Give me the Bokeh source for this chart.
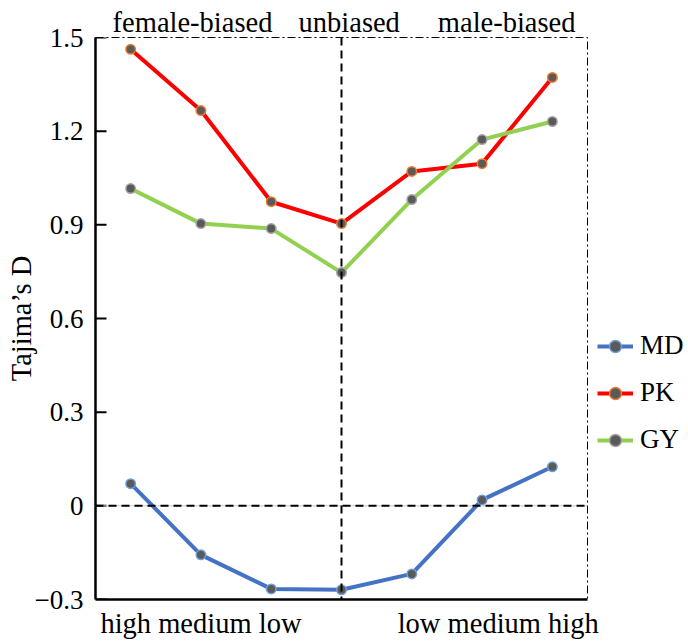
from bokeh.plotting import figure
from bokeh.models import (ColumnDataSource, Range1d, FixedTicker, Span,
                          Legend, LegendItem, LinearAxis)
from bokeh.embed import file_html
from bokeh.resources import INLINE

# ---------------- data ----------------
positions = [1, 2, 3, 4, 5, 6, 7]
md = [0.071, -0.157, -0.266, -0.269, -0.218, 0.019, 0.125]
pk = [1.462, 1.266, 0.974, 0.904, 1.071, 1.096, 1.372]
gy = [1.016, 0.904, 0.888, 0.747, 0.981, 1.173, 1.231]
series_names = ["MD", "PK", "GY"]

y_ticks = [-0.3, 0, 0.3, 0.6, 0.9, 1.2, 1.5]
y_tick_labels = ["\u22120.3", "0", "0.3", "0.6", "0.9", "1.2", "1.5"]

top_groups = ["female-biased", "unbiased", "male-biased"]
top_group_x = [1.88, 4.11, 6.35]
bottom_groups = ["high medium low", "low medium high"]
bottom_group_x = [2, 6.23]

FONT = "Liberation Serif"
FS = "27px"
FS_GROUP = "28.5px"

p = figure(frame_width=492, frame_height=562, output_backend="svg",
           toolbar_location=None,
           x_range=Range1d(0.5, 7.5), y_range=Range1d(-0.3, 1.5),
           min_border_left=95, min_border_top=37, min_border_bottom=44,
           min_border_right=101)

p.background_fill_color = "white"
p.border_fill_color = "white"
p.xgrid.visible = False
p.ygrid.visible = False
p.outline_line_color = "black"
p.outline_line_width = 1
p.outline_line_dash = "8 3 2 3"

# y axis
p.yaxis.ticker = FixedTicker(ticks=y_ticks)
p.yaxis.major_label_overrides = {t: l for t, l in zip(y_ticks, y_tick_labels)}
p.yaxis.minor_tick_line_color = None
p.yaxis.major_tick_in = 0
p.yaxis.major_tick_out = 0
p.yaxis.axis_line_width = 2.5
p.yaxis.major_label_text_font = FONT
p.yaxis.major_label_text_font_size = FS
p.yaxis.major_label_text_color = "black"
p.yaxis.major_label_standoff = 12
p.yaxis.axis_label = "Tajima\u2019s D"
p.yaxis.axis_label_text_font = FONT
p.yaxis.axis_label_text_font_size = FS_GROUP
p.yaxis.axis_label_text_font_style = "normal"
p.yaxis.axis_label_text_color = "black"
p.yaxis.axis_label_standoff = -5

# inward tick marks (half of a dash marker centred on the axis, clipped by the frame)
p.scatter(x=[0.5] * len(y_ticks), y=y_ticks, marker="dash", size=22,
          line_color="black", line_width=2)

# bottom axis: group labels
p.xaxis.ticker = FixedTicker(ticks=bottom_group_x)
p.xaxis.major_label_overrides = {t: l for t, l in zip(bottom_group_x, bottom_groups)}
p.xaxis.minor_tick_line_color = None
p.xaxis.major_tick_line_color = None
p.xaxis.major_tick_in = 0
p.xaxis.major_tick_out = 0
p.xaxis.major_label_text_font = FONT
p.xaxis.major_label_text_font_size = FS_GROUP
p.xaxis.major_label_text_color = "black"
p.xaxis.major_label_standoff = 8
p.xaxis.axis_line_width = 2.5

# top axis: group labels
top_axis = LinearAxis(ticker=FixedTicker(ticks=top_group_x),
                      major_label_overrides={t: l for t, l in zip(top_group_x, top_groups)},
                      axis_line_color=None, major_tick_line_color=None,
                      minor_tick_line_color=None, major_tick_in=0, major_tick_out=0,
                      major_label_text_font=FONT, major_label_text_font_size=FS_GROUP,
                      major_label_text_color="black", major_label_standoff=0)
p.add_layout(top_axis, "above")

# reference lines
p.add_layout(Span(location=0, dimension="width", line_color="#c8c8c8", line_width=1))
p.add_layout(Span(location=0, dimension="width", line_color="black", line_width=2,
                  line_dash="8 5"))
p.add_layout(Span(location=4, dimension="height", line_color="black", line_width=2,
                  line_dash="8 5"))

colors = {"MD": "#4472C4", "PK": "#FF0000", "GY": "#92D050"}
edge = {"MD": "#6FA0DC", "PK": "#ED7D31", "GY": "#A5A5A5"}
values = {"MD": md, "PK": pk, "GY": gy}

items = []
for name in series_names:
    src = ColumnDataSource(dict(x=positions, y=values[name]))
    l = p.line("x", "y", source=src, line_color=colors[name], line_width=4)
    c = p.scatter("x", "y", source=src, size=9.5, fill_color="#5A5A5A",
                  line_color=edge[name], line_width=1.5)
    items.append(LegendItem(label=name, renderers=[l, c]))

legend = Legend(items=items, location=(10, 144), orientation="vertical",
                border_line_color=None, background_fill_alpha=0,
                padding=0, margin=0, spacing=16, glyph_width=36, glyph_height=30,
                label_height=30, label_standoff=7, label_text_color="black",
                label_text_font=FONT, label_text_font_size=FS)
p.add_layout(legend, "right")

open("out.html", "w").write(file_html(p, INLINE))
